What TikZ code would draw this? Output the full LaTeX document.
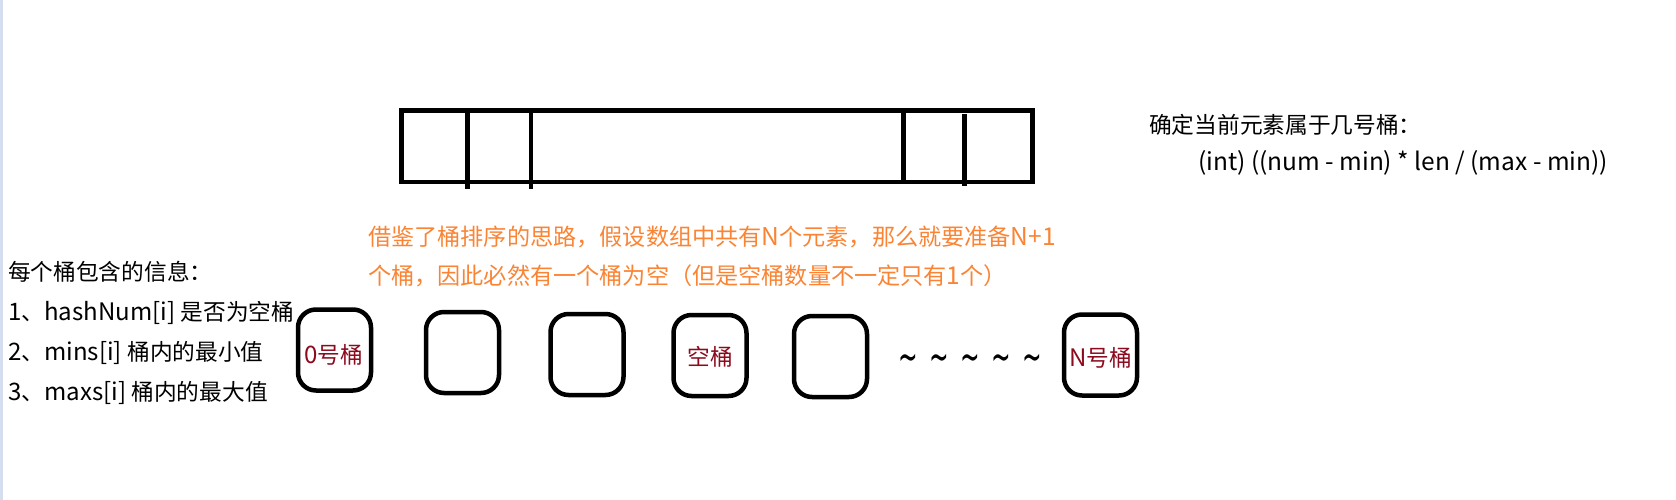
\documentclass[tikz,border=0pt]{standalone}
\usepackage{graphicx}
\usepackage{fontspec}
\setmainfont{Noto Sans CJK SC}
\newfontfamily\lat{Noto Sans CJK SC}[Scale=1.06]
\newfontfamily\dejavu{DejaVu Sans}
\definecolor{orangetxt}{RGB}{250,132,52}
\definecolor{labelred}{RGB}{140,10,30}
\definecolor{sidebar}{RGB}{212,222,238}
\newcommand\tld{\scalebox{1.3}[2.4]{\symbol{"007E}}}
\begin{document}
\begin{tikzpicture}[x=1pt,y=-1pt,
  txt/.style={anchor=base west, inner sep=0pt, font=\fontsize{22.7}{40}\selectfont},
  note/.style={anchor=base west, inner sep=0pt, text=orangetxt, font=\fontsize{23.15}{40}\selectfont},
  bucket/.style={draw, line width=4.5pt, rounded corners=18pt, minimum width=73pt, minimum height=81pt, inner sep=0pt},
  lbl/.style={anchor=base, inner sep=0pt, text=labelred, font=\fontsize{22.7}{30}\selectfont},
  bar/.style={line width=4.5pt}
]
\useasboundingbox (0,0) rectangle (1676,500);
\fill[sidebar] (0,0) rectangle (3.3,500);

% array strip
\draw[bar] (401.5,110.5) rectangle (1032.5,182);
\draw[bar] (467.7,110.5) -- (467.7,189);
\draw[bar] (531,113) -- (531,189);
\draw[bar] (903.5,110.5) -- (903.5,182);
\draw[bar] (964.5,114) -- (964.5,186);

% formula
\node[txt] (f1) at (1149,133.5) {确定当前元素属于几号桶：};
\node[txt, font=\fontsize{23.1}{40}\selectfont] (f2) at (1198,171) {\lat (int) ((num - min) * len / (max - min))};

% note
\node[note] (n1) at (368,245) {借鉴了桶排序的思路，假设数组中共有{\lat N}个元素，那么就要准备{\lat N+1}};
\node[note] (n2) at (368,284.5) {个桶，因此必然有一个桶为空（但是空桶数量不一定只有{\lat 1}个）};

% info
\node[txt] (i0) at (8,280) {每个桶包含的信息：};
\node[txt] (i1) at (8,320) {{\lat 1}、{\lat hashNum[i] }是否为空桶};
\node[txt] (i2) at (8,360) {{\lat 2}、{\lat mins[i] }桶内的最小值};
\node[txt] (i3) at (8,400) {{\lat 3}、{\lat maxs[i] }桶内的最大值};

% buckets
\node[bucket] (b0) at (334.5,350) {};
\node[bucket] (b1) at (462.5,352.5) {};
\node[bucket] (b2) at (587,354.5) {};
\node[bucket] (b3) at (710,355.5) {};
\node[bucket] (b4) at (830.5,356.5) {};
\node[bucket] (bN) at (1100.5,355) {};
\node[lbl] (l0) at (334,363.4) {{\lat 0}号桶};
\node[lbl] (l3) at (710.5,365.4) {空桶};
\node[lbl] (lN) at (1100.5,366) {{\lat N}号桶};

% tildes
\node[anchor=base, inner sep=0pt, font=\dejavu\fontsize{18}{20}\selectfont] (dots) at (970,371.4) {\tld\hspace{11.4pt}\tld\hspace{11.4pt}\tld\hspace{11.4pt}\tld\hspace{11.4pt}\tld};
\end{tikzpicture}
\end{document}
